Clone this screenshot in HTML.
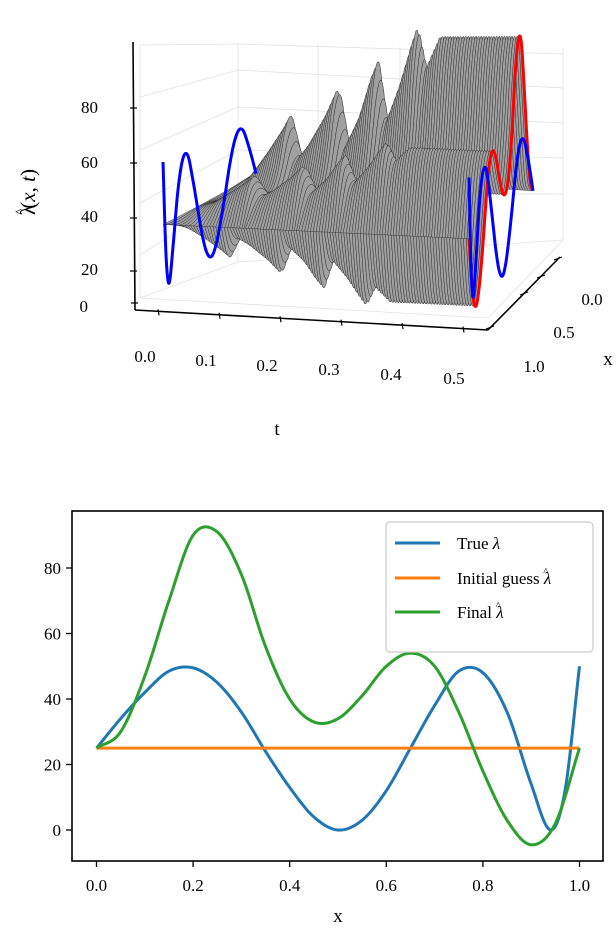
<!DOCTYPE html>
<html><head><meta charset="utf-8">
<style>
html,body{margin:0;padding:0;background:#fff;}
svg{display:block;font-family:"Liberation Serif","DejaVu Serif",serif;}
</style></head>
<body>
<svg id="fig" width="616" height="930" viewBox="0 0 616 930" xmlns="http://www.w3.org/2000/svg">
  <g id="top">
    <g id="panes" stroke="#e2e2e2" stroke-width="0.8" fill="none">
      <line x1="140" y1="45" x2="140" y2="298"/>
      <line x1="238" y1="44" x2="238" y2="262"/>
      <line x1="563" y1="48" x2="563" y2="240"/>
      <line x1="140" y1="45" x2="238" y2="44"/>
      <line x1="238" y1="44" x2="563" y2="54"/>
      <line x1="140" y1="97" x2="238" y2="70"/>
      <line x1="140" y1="150" x2="238" y2="107"/>
      <line x1="140" y1="203" x2="238" y2="150"/>
      <line x1="140" y1="255" x2="238" y2="193"/>
      <line x1="140" y1="298" x2="238" y2="262"/>
      <line x1="238" y1="70" x2="563" y2="88"/>
      <line x1="238" y1="107" x2="563" y2="123"/>
      <line x1="238" y1="150" x2="563" y2="158"/>
      <line x1="238" y1="193" x2="563" y2="194"/>
      <line x1="238" y1="262" x2="563" y2="240"/>
      <line x1="318" y1="44" x2="318" y2="258"/>
      <line x1="400" y1="47" x2="400" y2="253"/>
      <line x1="482" y1="50" x2="482" y2="247"/>
      <line x1="140" y1="298" x2="488" y2="318"/>
      <line x1="488" y1="318" x2="563" y2="240"/>
    </g>
    <g id="surface"></g>
    <g id="curves3d"></g>
    <g id="axes3d" stroke="#000" stroke-width="1.6" fill="none">
      <line x1="133" y1="42" x2="135" y2="310"/>
      <line x1="135" y1="310" x2="488" y2="330"/>
      <line x1="488" y1="330" x2="560" y2="257"/>
    </g>
    <g id="ticks3d" stroke="#000" stroke-width="1.2"></g>
    <g font-size="17" fill="#000">
      <text x="98" y="113" text-anchor="end">80</text>
      <text x="98" y="168" text-anchor="end">60</text>
      <text x="98" y="222" text-anchor="end">40</text>
      <text x="98" y="275" text-anchor="end">20</text>
      <text x="88" y="312" text-anchor="end">0</text>
      <text x="145" y="362" text-anchor="middle">0.0</text>
      <text x="206" y="366" text-anchor="middle">0.1</text>
      <text x="267" y="371" text-anchor="middle">0.2</text>
      <text x="329" y="375" text-anchor="middle">0.3</text>
      <text x="391" y="380" text-anchor="middle">0.4</text>
      <text x="454" y="384" text-anchor="middle">0.5</text>
      <text x="592" y="305" text-anchor="middle">0.0</text>
      <text x="564" y="338" text-anchor="middle">0.5</text>
      <text x="534" y="372" text-anchor="middle">1.0</text>
      <text x="608" y="365" text-anchor="middle" font-size="19">x</text>
      <text x="277" y="435" text-anchor="middle" font-size="19">t</text>
      <text transform="translate(35,192) rotate(-90)" text-anchor="middle" font-size="21"><tspan>λ</tspan><tspan dx="-10" dy="-11" font-size="13">^</tspan><tspan dy="11">(</tspan><tspan font-style="italic">x</tspan>, <tspan font-style="italic">t</tspan>)</text>
    </g>
  </g>

  <g id="bottom">
    <g id="plot2d"></g>
    <rect x="72" y="511" width="531" height="350" fill="none" stroke="#000" stroke-width="1.6"/>
    <g id="ticks2d"></g>
    <text x="338" y="922" text-anchor="middle" font-size="19">x</text>
    <g>
      <rect x="386" y="522" width="207" height="130" rx="4" fill="#fff" stroke="#ccc" stroke-width="1.2"/>
      <line x1="395" y1="543" x2="440" y2="543" stroke="#1f77b4" stroke-width="3"/>
      <text x="457" y="549" font-size="17">True <tspan font-style="italic">λ</tspan></text>
      <line x1="395" y1="578" x2="440" y2="578" stroke="#ff7f0e" stroke-width="3"/>
      <text x="457" y="584" font-size="17">Initial guess <tspan font-style="italic">λ</tspan><tspan dx="-8" dy="-9" font-size="11">^</tspan></text>
      <line x1="395" y1="612" x2="440" y2="612" stroke="#2ca02c" stroke-width="3"/>
      <text x="457" y="618" font-size="17">Final <tspan font-style="italic">λ</tspan><tspan dx="-8" dy="-9" font-size="11">^</tspan></text>
    </g>
  </g>
</svg>
<script>
// ---- data ----
const trueX = [0,0.05,0.1,0.15,0.2,0.25,0.3,0.35,0.4,0.45,0.5,0.55,0.6,0.65,0.7,0.75,0.8,0.85,0.9,0.94,0.97,1.0];
const trueY = [25,34,42,48.5,49.5,45,36,24,13,4,0,3,12,25,38,48.5,48,36,14,0,12,50];
const finalX = [0,0.05,0.1,0.15,0.2,0.25,0.3,0.35,0.4,0.45,0.5,0.55,0.6,0.65,0.7,0.75,0.8,0.85,0.9,0.95,1.0];
const finalY = [25,30,47,70,90,91,78,56,40,33,34,41,50,54,50,36,18,3,-4.5,2,25];
const initX = [0,1];
const initY = [25,25];
const xTicks = [0,0.2,0.4,0.6,0.8,1.0];
const xTickLabels = ["0.0","0.2","0.4","0.6","0.8","1.0"];
const yTicks = [0,20,40,60,80];
const yTickLabels = ["0","20","40","60","80"];
// surface amplitude of (final - initial) over time
const ampT = [0,0.03,0.06,0.085,0.096,0.11,0.13,0.16,0.18,0.195,0.22,0.24,0.25,0.265,0.29,0.31,0.32,0.335,0.36,0.5];
const ampA = [0,0.08,0.25,0.4,0.48,0.2,0.3,0.5,0.67,0.3,0.5,0.75,0.84,0.45,0.7,0.95,1.06,0.8,1.0,1.0];

const NS='http://www.w3.org/2000/svg';
function lin(xs,ys,x){
  if(x<=xs[0])return ys[0];
  for(let i=1;i<xs.length;i++){ if(x<=xs[i]){const f=(x-xs[i-1])/(xs[i]-xs[i-1]);return ys[i-1]+f*(ys[i]-ys[i-1]);} }
  return ys[ys.length-1];
}
function cub(xs,ys,x){
  const n=xs.length;
  if(n<3)return lin(xs,ys,x);
  if(x<=xs[0])return ys[0];
  if(x>=xs[n-1])return ys[n-1];
  let i=1;while(x>xs[i])i++;
  i-=1;
  const tan=k=>{const a=Math.max(0,k-1),b=Math.min(n-1,k+1);return (ys[b]-ys[a])/(xs[b]-xs[a]);};
  const h=xs[i+1]-xs[i],s=(x-xs[i])/h;
  const m0=tan(i)*h,m1=tan(i+1)*h;
  const s2=s*s,s3=s2*s;
  return (2*s3-3*s2+1)*ys[i]+(s3-2*s2+s)*m0+(-2*s3+3*s2)*ys[i+1]+(s3-s2)*m1;
}
function poly(pts){return pts.map((q,i)=>(i?'L':'M')+q[0].toFixed(2)+','+q[1].toFixed(2)).join('');}
// ---- bottom chart ----
const sx=v=>96.5+v*483, sy=v=>830-v*3.275;
const plot=document.getElementById('plot2d');
function addSeries(xs,ys,color,name){
  const pts=[];for(let j=0;j<=400;j++){const x=j/400;pts.push([sx(x),sy(cub(xs,ys,x))]);}
  const p=document.createElementNS(NS,'path');
  p.setAttribute('d',poly(pts));
  p.setAttribute('fill','none');p.setAttribute('stroke',color);p.setAttribute('stroke-width','3');p.setAttribute('stroke-linejoin','round');
  
  
  plot.appendChild(p);
}
addSeries(trueX,trueY,'#1f77b4','true-lambda-line');
addSeries(initX,initY,'#ff7f0e','initial-guess-line');
addSeries(finalX,finalY,'#2ca02c','final-lambda-line');
const tg=document.getElementById('ticks2d');
xTicks.forEach((v,i)=>{
  const l=document.createElementNS(NS,'line');
  l.setAttribute('x1',sx(v));l.setAttribute('x2',sx(v));l.setAttribute('y1',861);l.setAttribute('y2',867);
  l.setAttribute('stroke','#000');l.setAttribute('stroke-width','1.3');
  
  
  tg.appendChild(l);
  const t=document.createElementNS(NS,'text');
  t.setAttribute('x',sx(v));t.setAttribute('y',891);t.setAttribute('text-anchor','middle');t.setAttribute('font-size','17');
  t.textContent=xTickLabels[i];
  
  
  tg.appendChild(t);
});
yTicks.forEach((v,i)=>{
  const l=document.createElementNS(NS,'line');
  l.setAttribute('x1',66);l.setAttribute('x2',72);l.setAttribute('y1',sy(v));l.setAttribute('y2',sy(v));
  l.setAttribute('stroke','#000');l.setAttribute('stroke-width','1.3');
  
  
  tg.appendChild(l);
  const t=document.createElementNS(NS,'text');
  t.setAttribute('x',61);t.setAttribute('y',sy(v)+6);t.setAttribute('text-anchor','end');t.setAttribute('font-size','17');
  t.textContent=yTickLabels[i];
  
  
  tg.appendChild(t);
});
// ---- 3D chart ----
function proj(t,x,z){
  const u=t/0.5;
  const X0=256-93*x+8*x*(1-x), X1=533-64*x+6*x*(1-x);
  const B0=226+61*x, B1=252+48*x;
  const k0=2.1+0.4*x, k1=2.45;
  const X=X0+(X1-X0)*u, B=B0+(B1-B0)*u, k=k0+(k1-k0)*u;
  return [X,B-k*z];
}
function surfZ(t,x){
  const a=lin(ampT,ampA,t);
  return 25+a*(cub(finalX,finalY,x)-25);
}
const surf=document.getElementById('surface');
const NT=110, NX=60;
function curve(t){const pts=[];for(let j=0;j<=NX;j++){const x=j/NX;pts.push(proj(t,x,surfZ(t,x)));}return pts;}
let prev=curve(0);
for(let i=1;i<=NT;i++){
  const t=0.5*i/NT;
  const cur=curve(t);
  const pg=prev.concat(cur.slice().reverse());
  const p=document.createElementNS(NS,'polygon');
  p.setAttribute('points',pg.map(q=>q[0].toFixed(1)+','+q[1].toFixed(1)).join(' '));
  p.setAttribute('fill','#a0a0a0');p.setAttribute('stroke','#222');p.setAttribute('stroke-width','0.4');
  
  
  surf.appendChild(p);
  prev=cur;
}
const c3=document.getElementById('curves3d');
function add3d(t,xs,ys,color,name){
  const pts=[];for(let j=0;j<=200;j++){const x=j/200;pts.push(proj(t,x,cub(xs,ys,x)));}
  const p=document.createElementNS(NS,'path');
  p.setAttribute('d',poly(pts));
  p.setAttribute('fill','none');p.setAttribute('stroke',color);p.setAttribute('stroke-width','3');p.setAttribute('stroke-linejoin','round');
  
  
  c3.appendChild(p);
}
add3d(0,trueX,trueY,'#0000ff','true-lambda-t0');
add3d(0.5,finalX,finalY,'#ff0000','final-lambda-t05');
add3d(0.5,trueX,trueY,'#0000ff','true-lambda-t05');
// 3d ticks
const t3=document.getElementById('ticks3d');
const zt=[[134,108],[134,163],[134,218],[134,271],[135,303]];
zt.forEach(q=>{const l=document.createElementNS(NS,'line');l.setAttribute('x1',q[0]-4);l.setAttribute('x2',q[0]+3);l.setAttribute('y1',q[1]);l.setAttribute('y2',q[1]);
  
  
  t3.appendChild(l);});
[0,0.1,0.2,0.3,0.4,0.5].forEach(v=>{const x=158+v*610,y=310+(x-135)*20/353;const l=document.createElementNS(NS,'line');l.setAttribute('x1',x);l.setAttribute('x2',x+1);l.setAttribute('y1',y-2);l.setAttribute('y2',y+4);
  
  
  t3.appendChild(l);});
[[558,259],[541,277],[524,294],[490,328]].forEach(q=>{const l=document.createElementNS(NS,'line');l.setAttribute('x1',q[0]-4);l.setAttribute('x2',q[0]+4);l.setAttribute('y1',q[1]+1);l.setAttribute('y2',q[1]-2);
  
  
  t3.appendChild(l);});
</script>
</body></html>
